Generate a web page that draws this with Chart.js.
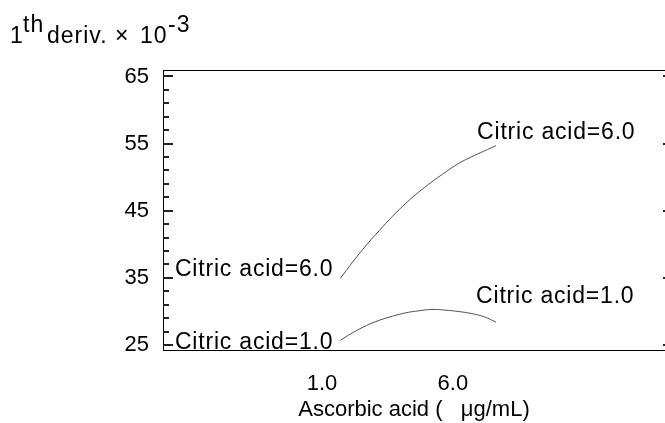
<!DOCTYPE html>
<html><head><meta charset="utf-8">
<script src="https://cdn.jsdelivr.net/npm/chart.js@4"></script>
<style>html,body{margin:0;padding:0;background:#fff;overflow:hidden}</style>
</head><body>
<canvas id="c" width="665" height="423"></canvas>
<script>
// ---- data ----
const ascorbic = [1.7, 2.2, 2.7, 3.2, 3.7, 4.2, 4.7, 5.2, 5.7, 6.2, 6.7, 7.2, 7.65];
const citric6 = [34.9, 37.5, 39.9, 42.1, 44.2, 46.1, 47.8, 49.3, 50.7, 52.0, 53.0, 53.9, 54.7];
const citric1 = [25.7, 26.9, 27.9, 28.7, 29.3, 29.8, 30.1, 30.3, 30.2, 30.0, 29.7, 29.2, 28.4];
const seriesNames = ['Citric acid=6.0', 'Citric acid=1.0'];
const xTickValues = [1.0, 6.0];
const yTickValues = [25, 35, 45, 55, 65];
const yMinorValues = [25, 27, 29, 31, 33, 35, 37, 39, 41, 43, 45, 47, 49, 51, 53, 55, 57, 59, 61, 63, 65];
const xTitle = 'Ascorbic acid (   \u03bcg/mL)';
const yTitleParts = ['1', 'th', 'deriv.', '\u00d7', '10', '-3'];

const FONT = "'Liberation Sans', Arial, sans-serif";
const FS = 22;

const toPts = (ys) => ascorbic.map((x, i) => ({x: x, y: ys[i]}));

// label offsets (px) relative to the first / last point of each curve
const labelOffsets = [
  {left: [-7, -9], right: [-19, -13]},
  {left: [-7, 2], right: [-20, -26]}
];
// placement of the pieces of the top-left title: [x, baseline]
const yTitleLayout = [[10, 43], [23, 32], [47, 43], [115, 43], [140, 43], [168, 32]];

const framePlugin = {
  id: 'frame',
  afterDraw(chart) {
    const ctx = chart.ctx, a = chart.chartArea, ys = chart.scales.y;
    ctx.save();
    ctx.fillStyle = '#000';
    const L = Math.round(a.left), T = Math.round(a.top), B = Math.round(a.bottom), R = Math.round(a.right);
    ctx.fillRect(L, T, R - L, 1);           // top border
    ctx.fillRect(L, T, 1, B - T + 1);       // left axis
    ctx.fillRect(L, B, R - L, 1);           // bottom axis
    ctx.fillStyle = '#222';
    yMinorValues.forEach(v => {
      const y = Math.round(ys.getPixelForValue(v));
      const major = yTickValues.includes(v);
      ctx.fillRect(L, y - 1, major ? 10 : 6, 2);
      if (major) ctx.fillRect(R - 2, y - 1, 2, 2);
    });
    ctx.fillStyle = '#000';

    // curve labels
    ctx.font = '23px ' + FONT;
    ctx.textBaseline = 'middle';
    try { ctx.letterSpacing = '0.8px'; } catch (e) {}
    chart.data.datasets.forEach((ds, i) => {
      const pts = chart.getDatasetMeta(i).data;
      const f = pts[0], l = pts[pts.length - 1];
      const o = labelOffsets[i];
      ctx.textAlign = 'right';
      ctx.fillText(ds.label, f.x + o.left[0], f.y + o.left[1]);
      ctx.textAlign = 'left';
      ctx.fillText(ds.label, l.x + o.right[0], l.y + o.right[1]);
    });

    // y-axis title with superscripts
    ctx.textAlign = 'left';
    ctx.textBaseline = 'alphabetic';
    try { ctx.letterSpacing = '1px'; } catch (e) {}
    yTitleParts.forEach((t, i) => {
      ctx.fillText(t, yTitleLayout[i][0], yTitleLayout[i][1]);
    });
    try { ctx.letterSpacing = '0px'; } catch (e) {}
    ctx.restore();
  }
};

new Chart(document.getElementById('c'), {
  type: 'line',
  data: {
    datasets: [
      {label: seriesNames[0], data: toPts(citric6)},
      {label: seriesNames[1], data: toPts(citric1)}
    ]
  },
  options: {
    responsive: false,
    animation: false,
    devicePixelRatio: 1,
    layout: {padding: {top: 70, left: 0, right: 0, bottom: 0}},
    elements: {
      point: {radius: 0},
      line: {borderColor: '#505050', borderWidth: 1, tension: 0.4, fill: false}
    },
    plugins: {legend: {display: false}, tooltip: {enabled: false}, title: {display: false}},
    scales: {
      x: {
        type: 'linear', min: -5.07, max: 14.1,
        afterBuildTicks: s => { s.ticks = xTickValues.map(v => ({value: v})); },
        afterFit: s => { s.height = 73; },
        grid: {display: false, drawTicks: false},
        border: {display: false},
        ticks: {autoSkip: false, maxRotation: 0, padding: 21, color: '#000',
                font: {family: FONT, size: FS}, callback: v => Number(v).toFixed(1)},
        title: {display: true, text: xTitle, color: '#000', padding: {top: 0, bottom: 0},
                font: {family: FONT, size: FS}}
      },
      y: {
        type: 'linear', min: 24.26, max: 65.96,
        afterBuildTicks: s => { s.ticks = yTickValues.map(v => ({value: v})); },
        afterFit: s => { s.width = 163; },
        grid: {display: false, drawTicks: false},
        border: {display: false},
        ticks: {autoSkip: false, padding: 14, color: '#000',
                font: {family: FONT, size: FS}, callback: v => String(v)}
      }
    }
  },
  plugins: [framePlugin]
});
</script>
</body></html>
